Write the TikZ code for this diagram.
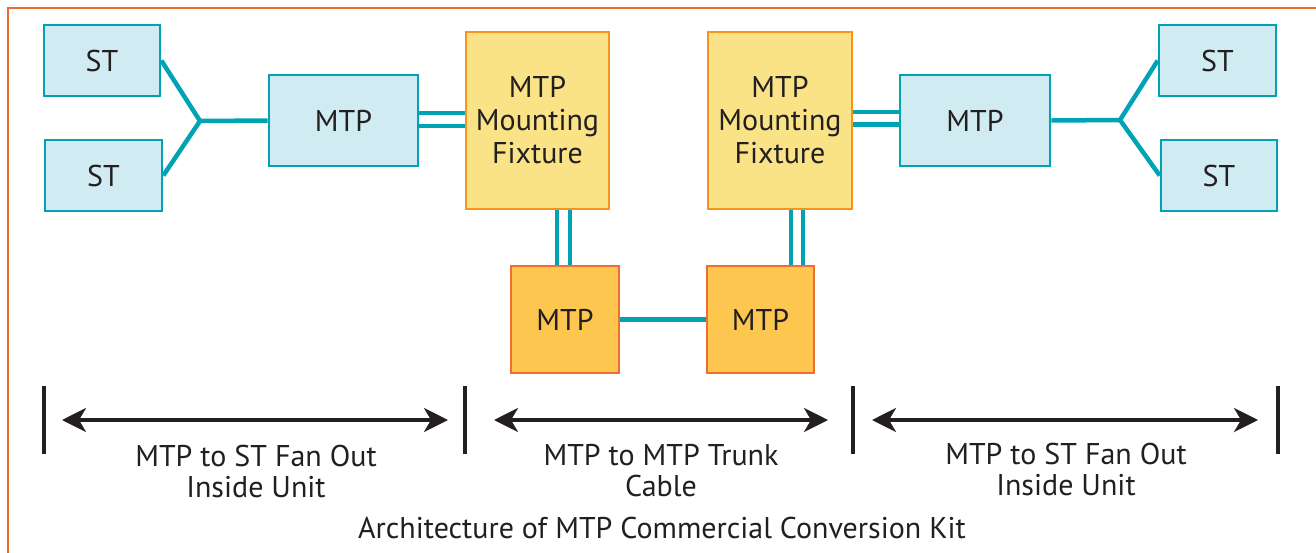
\documentclass[tikz,border=0pt]{standalone}
\usepackage{fontspec}
\setmainfont{PT Sans}
\usetikzlibrary{arrows.meta,calc}
\definecolor{bluefill}{RGB}{208,236,242}
\definecolor{teal}{RGB}{0,163,180}
\definecolor{yelfill}{RGB}{249,227,134}
\definecolor{yeldraw}{RGB}{247,148,29}
\definecolor{orfill}{RGB}{253,198,78}
\definecolor{ordraw}{RGB}{242,107,49}
\definecolor{frame}{RGB}{238,106,46}
\definecolor{ink}{RGB}{35,31,32}
\tikzset{
  box/.style={draw, line width=2.6pt, inner sep=0pt, font=\fontsize{30}{33}\selectfont, text=ink, align=center},
  bluebox/.style={box, fill=bluefill, draw=teal},
  fixbox/.style={box, fill=yelfill, draw=yeldraw},
  orbox/.style={box, fill=orfill, draw=ordraw},
  cable/.style={draw=teal, line width=4.5pt},
  bar/.style={draw=ink, line width=4.5pt},
  span/.style={draw=ink, line width=3.5pt, {Stealth[length=24pt,width=24pt,inset=7pt]}-{Stealth[length=24pt,width=24pt,inset=7pt]}},
  lab/.style={text=ink, align=center, inner sep=0pt, font=\fontsize{30}{31}\selectfont}
}
\begin{document}
\begin{tikzpicture}[x=1pt,y=-1pt]
\useasboundingbox (0,0) rectangle (1316,552);
\draw[frame, line width=2.5pt] (8,560) -- (8,8) -- (1325,8);

\node[bluebox, minimum width=116pt, minimum height=71pt] (st1) at (102,60.5) {ST};
\node[bluebox, minimum width=117pt, minimum height=71pt] (st2) at (103.5,175.5) {ST};
\node[bluebox, minimum width=149pt, minimum height=91pt] (mtpL) at (343.5,120.5) {MTP};
\node[fixbox, minimum width=143pt, minimum height=177pt] (fixL) at (537.5,120.5) {MTP\\Mounting\\Fixture};
\node[fixbox, minimum width=144pt, minimum height=177pt] (fixR) at (780,120.5) {MTP\\Mounting\\Fixture};
\node[orbox, minimum width=108pt, minimum height=107pt] (mtpBL) at (565,319.5) {MTP};
\node[orbox, minimum width=107pt, minimum height=107pt] (mtpBR) at (760.5,319.5) {MTP};
\node[bluebox, minimum width=150pt, minimum height=91pt] (mtpR) at (975,120.5) {MTP};
\node[bluebox, minimum width=117pt, minimum height=71pt] (st3) at (1217.5,60.5) {ST};
\node[bluebox, minimum width=116pt, minimum height=71pt] (st4) at (1219,175.5) {ST};

\coordinate (jL) at (200,121);
\coordinate (jR) at (1120,120);

\draw[cable, line join=miter] (st1.east) -- (jL) -- (mtpL.west);
\draw[cable] (st2.east) -- (jL);
\draw[cable, line join=miter] (st3.west) -- (jR) -- (mtpR.east);
\draw[cable] (st4.west) -- (jR);

\draw[cable] ($(mtpL.east)+(0,-7.5)$) -- ($(fixL.west)+(0,-7.5)$);
\draw[cable] ($(mtpL.east)+(0,5.5)$) -- ($(fixL.west)+(0,5.5)$);
\draw[cable] ($(fixR.east)+(0,-8.5)$) -- ($(mtpR.west)+(0,-8.5)$);
\draw[cable] ($(fixR.east)+(0,4)$) -- ($(mtpR.west)+(0,4)$);

\coordinate (vL1) at ($(fixL.south)+(19.5,0)$);
\coordinate (vL2) at ($(fixL.south)+(32.5,0)$);
\coordinate (vR1) at ($(fixR.south)+(11,0)$);
\coordinate (vR2) at ($(fixR.south)+(23,0)$);
\draw[cable] (vL1) -- (vL1 |- mtpBL.north);
\draw[cable] (vL2) -- (vL2 |- mtpBL.north);
\draw[cable] (vR1) -- (vR1 |- mtpBR.north);
\draw[cable] (vR2) -- (vR2 |- mtpBR.north);

\draw[cable] (mtpBL.east) -- (mtpBR.west);

\coordinate (b1t) at (44,386); \coordinate (b1b) at (44,454);
\coordinate (b2t) at (465,386); \coordinate (b2b) at (465,454);
\coordinate (b3t) at (853,386); \coordinate (b3b) at (853,454);
\coordinate (b4t) at (1278,386); \coordinate (b4b) at (1278,454);
\draw[bar] (b1t) -- (b1b);
\draw[bar] (b2t) -- (b2b);
\draw[bar] (b3t) -- (b3b);
\draw[bar] (b4t) -- (b4b);

\coordinate (a1s) at (62,420); \coordinate (a1e) at (448,420);
\coordinate (a2s) at (494,420); \coordinate (a2e) at (828,420);
\coordinate (a3s) at (872,420); \coordinate (a3e) at (1258,420);
\draw[span] (a1s) -- (a1e);
\draw[span] (a2s) -- (a2e);
\draw[span] (a3s) -- (a3e);

\node[lab] (t1) at (256,471) {MTP to ST Fan Out\\Inside Unit};
\node[lab] (t2) at (661,471) {MTP to MTP Trunk\\Cable};
\node[lab] (t3) at (1066,469) {MTP to ST Fan Out\\Inside Unit};
\node[lab] (t4) at (662,528) {Architecture of MTP Commercial Conversion Kit};
\end{tikzpicture}
\end{document}
